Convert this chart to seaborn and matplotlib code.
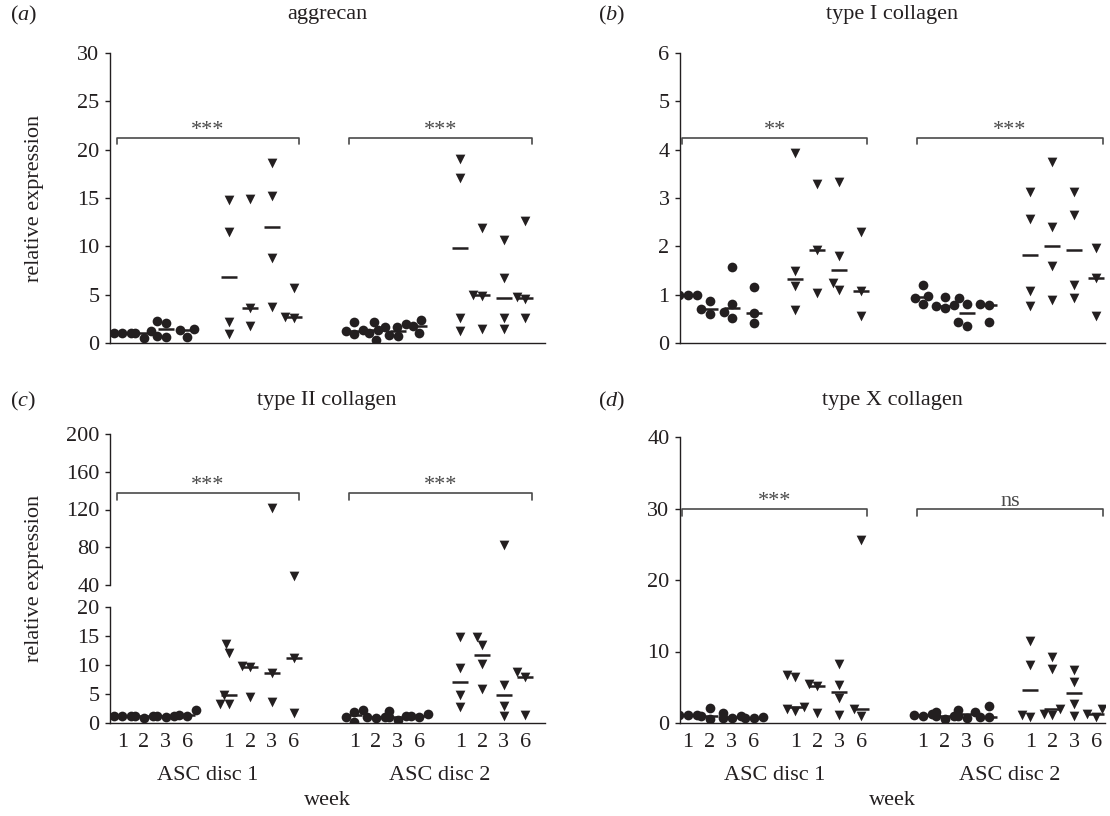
import warnings
import pandas as pd
import seaborn as sns
import matplotlib.pyplot as plt

warnings.filterwarnings('ignore')

# =============================================================================
# DATA (relative expression)
# =============================================================================
weeks = ['1', '2', '3', '6']
discs = ['ASC disc 1', 'ASC disc 2']

# aggrecan, one list per week (1, 2, 3, 6)
agg_d1_circ = [[1.0, 1.0, 1.0], [1.0, 0.5, 1.2], [2.1, 2.3, 0.6, 0.7], [1.3, 0.6, 1.4]]
agg_d1_tri = [[14.8, 11.5, 2.2, 0.9], [14.9, 3.6, 1.8], [18.6, 15.2, 8.8, 3.7], [5.7, 2.6, 2.7]]
agg_d2_circ = [[1.3, 0.9, 2.2, 1.2], [1.3, 1.7, 0.3, 1.0, 2.2], [2.0, 0.7, 0.85, 1.7], [2.4, 1.0, 1.8]]
agg_d2_tri = [[19.0, 17.1, 2.6, 1.2], [11.9, 5.0, 4.9, 1.5], [10.7, 6.7, 2.6, 1.5], [12.6, 4.8, 4.6, 2.6]]

# type I collagen
col1_d1_circ = [[1.0, 1.0, 1.0], [0.86, 0.59, 0.7], [1.57, 0.81, 0.64, 0.52], [1.15, 0.63, 0.42]]
col1_d1_tri = [[3.93, 1.48, 1.17, 0.69], [3.28, 1.93, 1.03], [3.33, 1.79, 1.24, 1.09], [2.29, 1.08, 0.55]]
col1_d2_circ = [[1.21, 0.98, 0.93, 0.81], [0.78, 0.72, 0.95, 0.76], [0.93, 0.81, 0.43, 0.36], [0.8, 0.78, 0.43]]
col1_d2_tri = [[3.12, 2.57, 1.07, 0.76], [3.74, 2.41, 1.6, 0.88], [3.13, 2.65, 1.2, 0.93], [1.97, 1.35, 0.55]]

# type II collagen
col2_d1_circ = [[1.2, 1.2, 1.2], [1.2, 0.8, 1.2], [1.2, 1.0, 1.2], [2.2, 1.2, 1.4]]
col2_d1_tri = [[13.7, 12.1, 4.8, 3.3, 3.3], [9.9, 9.7, 4.4], [122, 8.6, 3.6], [49.5, 11.2, 1.7]]
col2_d2_circ = [[1.9, 2.3, 0.2, 1.0], [1.0, 1.0, 0.9], [1.2, 2.0, 0.6, 1.0], [1.5, 1.0, 1.2]]
col2_d2_tri = [[14.8, 9.4, 4.8, 2.7], [14.8, 13.4, 10.2, 5.9], [82, 6.6, 3.0, 1.2], [8.8, 8.0, 1.3]]

# type X collagen
col10_d1_circ = [[1.1, 1.1, 1.1], [2.1, 1.0, 0.6], [1.0, 1.4, 0.7, 0.7], [0.9, 0.7, 0.75]]
col10_d1_tri = [[6.5, 6.7, 2.2, 1.9, 1.7], [5.5, 5.2, 1.4], [8.3, 5.3, 3.5, 1.1], [25.6, 2.0, 1.0]]
col10_d2_circ = [[1.2, 1.0, 1.1], [1.0, 1.5, 0.5, 1.0], [1.5, 0.7, 1.85, 0.95], [2.4, 0.9, 0.85]]
col10_d2_tri = [[11.4, 8.1, 1.1, 0.9], [9.2, 7.5, 2.0, 1.3, 1.1], [7.4, 5.8, 2.6, 1.0], [2.0, 1.3, 0.9]]

sig_agg = ['***', '***']
sig_col1 = ['**', '***']
sig_col2 = ['***', '***']
sig_col10 = ['***', 'ns']

# =============================================================================
# STYLE
# =============================================================================
sns.set_style('ticks')
plt.rcParams['font.family'] = ['Liberation Serif', 'DejaVu Serif']
plt.rcParams['mathtext.fontset'] = 'custom'
plt.rcParams['mathtext.rm'] = 'Liberation Serif'
plt.rcParams['mathtext.it'] = 'Liberation Serif:italic'
ink = '#231f20'
grey = '#4a4a4a'
fs = 16

# x layout: four groups of four weeks
group_start = [0, 4.9, 10.7, 15.6]


def to_frame(d1c, d1t, d2c, d2t):
    rows = []
    groups = [(discs[0], 'circle', d1c), (discs[0], 'triangle', d1t),
              (discs[1], 'circle', d2c), (discs[1], 'triangle', d2t)]
    for k, (disc, sym, vals) in enumerate(groups):
        for i, w in enumerate(weeks):
            for v in vals[i]:
                rows.append(dict(disc=disc, symbol=sym, week=w, value=v,
                                 pos=group_start[k] + i))
    return pd.DataFrame(rows)


def style_axis(ax, ylim, yticks, xlim):
    ax.set_ylim(*ylim)
    ax.set_xlim(*xlim)
    ax.set_yticks(yticks)
    ax.set_xticks([])
    ax.set_xlabel('')
    ax.set_ylabel('')
    for s in ['top', 'right']:
        ax.spines[s].set_visible(False)
    for s in ['left', 'bottom']:
        ax.spines[s].set_color(ink)
        ax.spines[s].set_linewidth(1.0)
    ax.tick_params(axis='y', direction='out', length=3.6, width=1.0,
                   color=ink, labelcolor=ink, labelsize=fs, pad=4)
    ax.patch.set_alpha(0)


def draw_points(ax, df, lo, hi, medians=True):
    for sym, m in [('circle', 'o'), ('triangle', 'v')]:
        sub = df[(df['symbol'] == sym) & (df['value'] >= lo) & (df['value'] <= hi)]
        if len(sub):
            sns.swarmplot(data=sub, x='pos', y='value', native_scale=True,
                          marker=m, color=ink, size=7, linewidth=0, ax=ax)
    if medians:
        sns.pointplot(data=df, x='pos', y='value', native_scale=True,
                      estimator='median', errorbar=None, markers='_',
                      linestyles='none', color=ink, markersize=11.5,
                      markeredgewidth=1.8, zorder=4, ax=ax)


def bracket(ax, y, drop, labels):
    spans = [(group_start[0] - 0.25, group_start[1] + 3.25),
             (group_start[2] - 0.25, group_start[3] + 3.3)]
    for (x0, x1), lab in zip(spans, labels):
        ax.plot([x0, x0, x1, x1], [y - drop, y, y, y - drop], color=grey,
                lw=1.2, clip_on=False, zorder=5)
        ax.annotate(lab, xy=((x0 + x1) / 2, y), xytext=(0, 2.5),
                    textcoords='offset points', ha='center', va='baseline',
                    fontsize=fs, color=grey)


def x_labels(ax):
    pos = [g + i for g in group_start for i in range(4)]
    ax.set_xticks(pos)
    ax.set_xticklabels(weeks * 4)
    ax.tick_params(axis='x', length=0, pad=7, labelsize=fs, labelcolor=ink)
    for j, disc in enumerate(discs):
        xc = (group_start[2 * j] + group_start[2 * j + 1] + 3) / 2
        ax.annotate(disc, xy=(xc, 0), xycoords=('data', 'axes fraction'),
                    xytext=(0, -37.5), textcoords='offset points',
                    ha='center', va='center', fontsize=fs, color=ink)
    ax.annotate('week', xy=(0.5, 0), xycoords='axes fraction',
                xytext=(0, -55.5), textcoords='offset points',
                ha='center', va='center', fontsize=fs, color=ink)


W, H = 1110, 816
fig = plt.figure(figsize=(W / 100, H / 100), dpi=100)


def box(left, right, top, bottom):
    return [left / W, 1 - bottom / H, (right - left) / W, (bottom - top) / H]


xlim_left = (-0.57, 19.5)
xlim_right = (-0.36, 19.0)

# (a) aggrecan
df_agg = to_frame(agg_d1_circ, agg_d1_tri, agg_d2_circ, agg_d2_tri)
ax_a = fig.add_axes(box(110, 545, 53, 343))
draw_points(ax_a, df_agg, 0, 30)
style_axis(ax_a, (0, 30), range(0, 31, 5), xlim_left)
bracket(ax_a, 21.2, 0.6, sig_agg)

# (b) type I collagen
df_col1 = to_frame(col1_d1_circ, col1_d1_tri, col1_d2_circ, col1_d2_tri)
ax_b = fig.add_axes(box(680, 1105, 53, 343))
draw_points(ax_b, df_col1, 0, 6)
style_axis(ax_b, (0, 6), range(0, 7), xlim_right)
bracket(ax_b, 4.24, 0.13, sig_col1)

# (c) type II collagen, broken axis
df_col2 = to_frame(col2_d1_circ, col2_d1_tri, col2_d2_circ, col2_d2_tri)
ax_c_top = fig.add_axes(box(110, 545, 434, 585))
draw_points(ax_c_top, df_col2, 40, 200, medians=False)
style_axis(ax_c_top, (40, 200), range(40, 201, 40), xlim_left)
ax_c_top.spines['bottom'].set_visible(False)
bracket(ax_c_top, 137, 7, sig_col2)

ax_c = fig.add_axes(box(110, 545, 607, 723))
draw_points(ax_c, df_col2, 0, 20)
style_axis(ax_c, (0, 20), range(0, 21, 5), xlim_left)
x_labels(ax_c)

# (d) type X collagen
df_col10 = to_frame(col10_d1_circ, col10_d1_tri, col10_d2_circ, col10_d2_tri)
ax_d = fig.add_axes(box(680, 1105, 437, 723))
draw_points(ax_d, df_col10, 0, 40)
style_axis(ax_d, (0, 40), range(0, 41, 10), xlim_right)
bracket(ax_d, 29.9, 0.9, sig_col10)
x_labels(ax_d)

# titles, panel letters, y labels
for x, y, t in [(327, 15, 'aggrecan'), (892, 15, 'type I collagen'),
                (327, 401, 'type II collagen'), (892, 401, 'type X collagen')]:
    fig.text(x / W, 1 - y / H, t, ha='center', va='center', fontsize=fs, color=ink)
for x, y, t in [(10, 15, 'a'), (598, 15, 'b'), (10, 401, 'c'), (598, 401, 'd')]:
    fig.text(x / W, 1 - y / H, '($\\mathit{' + t + '}$)', ha='left', va='center',
             fontsize=fs, color=ink)
for y in [198, 578]:
    fig.text(35 / W, 1 - y / H, 'relative expression', rotation=90,
             ha='center', va='center', fontsize=fs, color=ink)

plt.savefig('out.png', dpi=100)
